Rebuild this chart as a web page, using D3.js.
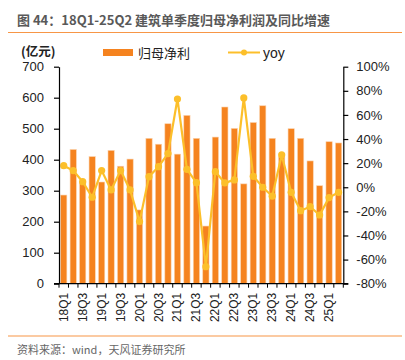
<!DOCTYPE html>
<html><head><meta charset="utf-8">
<script src="https://cdn.jsdelivr.net/npm/d3@7"></script>
<style>
body{margin:0;background:#fff;}
svg{display:block;}
text{font-family:"Liberation Sans","Noto Sans CJK SC",Arial,sans-serif;}
.cjk{font-family:"Noto Sans CJK SC","Liberation Sans",sans-serif;}
</style></head>
<body>
<svg id="c" width="405" height="360"></svg>
<script>
const categories = ["18Q1","18Q2","18Q3","18Q4","19Q1","19Q2","19Q3","19Q4","20Q1","20Q2","20Q3","20Q4","21Q1","21Q2","21Q3","21Q4","22Q1","22Q2","22Q3","22Q4","23Q1","23Q2","23Q3","23Q4","24Q1","24Q2","24Q3","24Q4","25Q1","25Q2"];
const profit = [286,433,330,410,328,430,379,402,238,469,450,516,418,543,469,186,473,570,501,322,520,574,469,409,500,469,396,316,458,454];
const yoy = [17.9,13.8,4.6,-8.3,13.8,-2.2,13.8,-2.2,-28.5,8.8,17.1,27.9,73.2,14.9,3.8,-65.9,12.9,3.6,6.1,74.1,9.1,0,-7.4,26.8,-4.2,-19.4,-16.1,-23,-8.6,-4.2];
const leftTicks = [0,100,200,300,400,500,600,700];
const rightTicks = [-80,-60,-40,-20,0,20,40,60,80,100];
const title = "图 44：18Q1-25Q2 建筑单季度归母净利润及同比增速";
const unitLabel = "(亿元)";
const seriesNames = ["归母净利","yoy"];
const source = "资料来源：wind，天风证券研究所";

const barColor = "#F5831F", lineColor = "#FCBF2A", accent = "#F79646";
const svg = d3.select("#c");
const L = 59, R = 343.3, T = 66.7, B = 283.7;

const x = d3.scaleBand().domain(categories).range([L, R]).paddingInner(0.34).paddingOuter(0.17);
const xc = d3.scalePoint().domain(categories).range([L, R]).padding(0.5);
const yL = d3.scaleLinear().domain([0,700]).range([B, T]);
const yR = d3.scaleLinear().domain([-80,100]).range([B, T]);

// title
svg.append("text").attr("class","cjk").attr("x",17).attr("y",25).attr("font-size",13).attr("font-weight","bold").attr("fill","#595959").text(title);
svg.append("line").attr("x1",8).attr("x2",402).attr("y1",32.5).attr("y2",32.5).attr("stroke",accent).attr("stroke-width",1.2);
svg.append("line").attr("x1",8).attr("x2",402).attr("y1",336).attr("y2",336).attr("stroke",accent).attr("stroke-width",1.2);
svg.append("text").attr("class","cjk").attr("x",17).attr("y",354).attr("font-size",11).attr("fill","#666").text(source);

// unit
svg.append("text").attr("class","cjk").attr("x",21).attr("y",55.5).attr("font-size",12.5).attr("font-weight","bold").attr("fill","#222").text(unitLabel);

// legend
svg.append("rect").attr("x",103).attr("y",49).attr("width",30).attr("height",7).attr("fill",barColor);
svg.append("text").attr("class","cjk").attr("x",138).attr("y",57.5).attr("font-size",13).attr("fill","#222").text(seriesNames[0]);
svg.append("line").attr("x1",228).attr("x2",260).attr("y1",52.5).attr("y2",52.5).attr("stroke",lineColor).attr("stroke-width",2);
svg.append("circle").attr("cx",244).attr("cy",52.5).attr("r",3).attr("fill",lineColor);
svg.append("text").attr("x",263).attr("y",57.5).attr("font-size",14).attr("fill","#222").text(seriesNames[1]);

// bars
svg.append("g").selectAll("rect").data(profit).join("rect")
  .attr("x",(d,i)=>x(categories[i])).attr("width",x.bandwidth())
  .attr("y",d=>yL(d)).attr("height",d=>B-yL(d))
  .attr("fill",barColor).attr("stroke","#FBD3AE").attr("stroke-width",0.6);

// line
const line = d3.line().x((d,i)=>xc(categories[i])).y(d=>yR(d));
svg.append("path").datum(yoy).attr("d",line).attr("fill","none").attr("stroke",lineColor).attr("stroke-width",2.2);
svg.append("g").selectAll("circle").data(yoy).join("circle")
  .attr("cx",(d,i)=>xc(categories[i])).attr("cy",d=>yR(d)).attr("r",3.6).attr("fill",lineColor);

// axes
const ax = svg.append("g").attr("transform",`translate(${L},0)`)
  .call(d3.axisLeft(yL).tickValues(leftTicks).tickSize(5).tickPadding(10).tickSizeOuter(0));
const ar = svg.append("g").attr("transform",`translate(${R},0)`)
  .call(d3.axisRight(yR).tickValues(rightTicks).tickSize(5).tickPadding(8).tickFormat(d=>d+"%").tickSizeOuter(0));
[ax,ar].forEach(g=>{
  g.selectAll("text").attr("font-size",13).attr("fill","#222").attr("font-family","Liberation Sans, Arial, sans-serif");
  g.selectAll("line,path").attr("stroke","#000").attr("stroke-width",1.2);
});

// x axis
const xg = svg.append("g");
xg.append("line").attr("x1",L-5).attr("x2",R+5).attr("y1",B).attr("y2",B).attr("stroke","#000").attr("stroke-width",1.2);
const step = x.step();
xg.selectAll("line.t").data(d3.range(categories.length+1)).join("line").attr("class","t")
  .attr("x1",i=>L+i*step).attr("x2",i=>L+i*step).attr("y1",B).attr("y2",B+4).attr("stroke","#000").attr("stroke-width",1);
xg.selectAll("text").data(categories.filter((c,i)=>i%2===0)).join("text")
  .attr("transform",d=>`translate(${xc(d)+4},${B+9}) rotate(-90)`)
  .attr("text-anchor","end").attr("font-size",12).attr("fill","#222").text(d=>d);
</script>
</body></html>
